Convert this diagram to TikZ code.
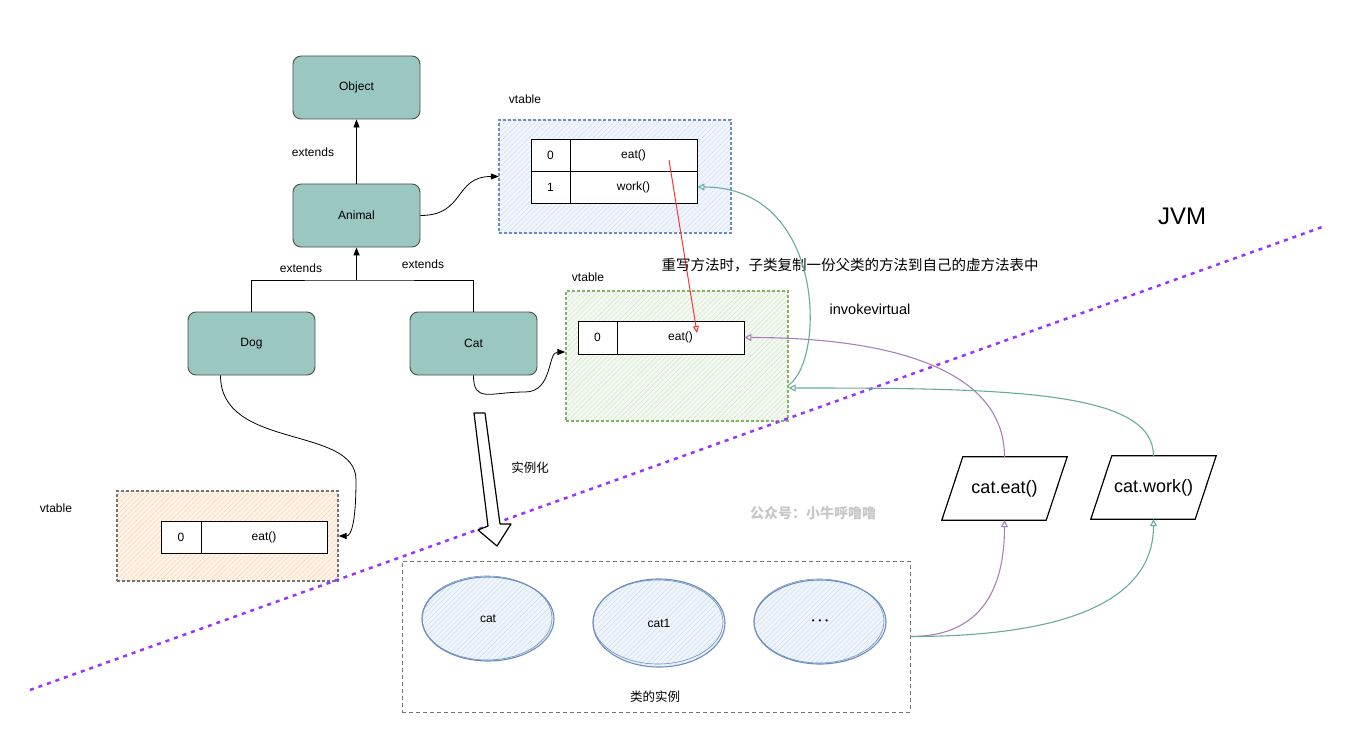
\documentclass[tikz,border=0pt]{standalone}
\usepackage{fontspec}
\setmainfont{Liberation Sans}
\newfontfamily\cjk{Noto Sans CJK SC}
\usetikzlibrary{arrows.meta,shapes.geometric,patterns.meta}

\begin{document}
\begin{tikzpicture}[x=1pt,y=-1pt,
    cls/.style={draw=black!70,fill=clsfill,rounded corners=8pt,line width=0.9pt,
      minimum width=127pt,minimum height=63pt,font=\fontsize{12}{14}\selectfont},
    cell/.style={draw,fill=white,line width=0.8pt,minimum height=32pt,inner sep=0pt,
      font=\fontsize{12}{14}\selectfont},
    vtbox/.style={line width=1.3pt,dash pattern=on 3pt off 2pt,inner sep=0pt},
    hatch/.style={pattern={Lines[angle=45,distance=3.5pt,line width=0.4pt]},pattern color=#1},
    inst/.style={ellipse,draw=instline,line width=1.1pt,preaction={fill=instfill},hatch=insthatch,
      minimum width=132pt,minimum height=84pt,font=\fontsize{12}{14}\selectfont},
    txt/.style={font=\fontsize{12}{14}\selectfont,inner sep=0pt},
    cjktxt/.style={font=\cjk\fontsize{12.5}{15}\selectfont,inner sep=0pt},
    blk/.style={-{Triangle[length=8pt,width=6pt]},line width=0.8pt},
    opn/.style={-{Triangle[open,length=7pt,width=7pt]},line width=1.1pt}]
  \definecolor{clsfill}{HTML}{9AC7BF}
  \definecolor{bluedash}{HTML}{6C8EBF}
  \definecolor{bluefill}{HTML}{F1F5FD}
  \definecolor{bluehatch}{HTML}{C9D9F2}
  \definecolor{greendash}{HTML}{82B366}
  \definecolor{greenfill}{HTML}{F3F8F0}
  \definecolor{greenhatch}{HTML}{CBE2C3}
  \definecolor{orangefill}{HTML}{FFF2E6}
  \definecolor{orangehatch}{HTML}{FAD0AA}
  \definecolor{instline}{HTML}{6C8EBF}
  \definecolor{instfill}{HTML}{F0F5FC}
  \definecolor{insthatch}{HTML}{C8DAF2}
  \definecolor{callpurple}{HTML}{A680B8}
  \definecolor{callteal}{HTML}{67AB9F}
  \definecolor{jvmline}{HTML}{9933FF}
  \definecolor{copyred}{HTML}{FF3333}

  \useasboundingbox (0,0) rectangle (1350,741);

  % class hierarchy
  \node[cls] (object) at (356.5,87.5) {Object};
  \node[cls] (animal) at (356.5,215.5) {Animal};
  \node[cls] (dog) at (251.5,343.5) {Dog};
  \node[cls] (cat) at (473.5,343.5) {Cat};
  \coordinate (join) at (356.5,280);

  \draw[blk] (animal.north) -- (object.south);
  \draw[line width=0.8pt] (dog.north) |- (join) -| (cat.north);
  \draw[blk,line width=1.6pt] (join) -- (animal.south);

  \node[txt] (ext1) at (313,152) {extends};
  \node[txt] (ext2) at (301,268) {extends};
  \node[txt] (ext3) at (423,264) {extends};

  % vtable of Animal
  \node[vtbox,draw=bluedash,preaction={fill=bluefill},hatch=bluehatch,
        minimum width=232pt,minimum height=113pt] (bluevt) at (615,176.5) {};
  \node[txt] (bluelbl) at (525,99) {vtable};
  \node[cell,minimum width=39pt] (bidx0) at (550.5,155) {0};
  \node[cell,minimum width=127pt] (beat) at (633.5,155) {eat()};
  \node[cell,minimum width=39pt] (bidx1) at (550.5,187) {1};
  \node[cell,minimum width=127pt] (bwork) at (633.5,187) {work()};

  % vtable of Cat
  \node[vtbox,draw=greendash,preaction={fill=greenfill},hatch=greenhatch,
        minimum width=222pt,minimum height=130pt] (greenvt) at (677,356) {};
  \node[txt] (greenlbl) at (588,277) {vtable};
  \node[cell,minimum width=39pt,minimum height=33pt] (gidx0) at (597.5,337.5) {0};
  \node[cell,minimum width=127pt,minimum height=33pt] (geat) at (680.5,337.5) {eat()};

  % vtable of Dog
  \node[vtbox,draw=black!55,preaction={fill=orangefill},hatch=orangehatch,
        minimum width=221pt,minimum height=90pt] (orangevt) at (227.5,536) {};
  \node[txt] (orangelbl) at (56,508) {vtable};
  \node[cell,minimum width=40pt] (oidx0) at (181,537) {0};
  \node[cell,minimum width=126pt] (oeat) at (264,537) {eat()};

  % class -> vtable
  \draw[blk] (animal.east) .. controls +(45,0) and +(-45,0) .. (bluevt.west);
  \draw[blk] (cat.south) .. controls +(0,28) and +(-35,0) .. (525,392)
        .. controls +(28,0) and +(-18,0) .. ([yshift=4pt]greenvt.west);
  \draw[blk] ([xshift=-31pt]dog.south) .. controls +(0,75) and +(0,-55) .. (356,480)
        .. controls +(0,45) and +(12,0) .. (orangevt.east);

  % overriding copies the method
  \draw[copyred,line width=1pt,-{Triangle[open,length=7pt,width=6pt]}]
        ([xshift=35.5pt,yshift=-5pt]beat.center) -- ([xshift=16.5pt,yshift=4.5pt]geat.center);
  \node[font=\cjk\fontsize{14.5}{17}\selectfont,inner sep=0pt] (copynote) at (850,265)
        {重写方法时，子类复制一份父类的方法到自己的虚方法表中};

  % JVM border
  \coordinate (jvmlo) at (30,690);
  \coordinate (jvmhi) at (1325,226);
  \draw[jvmline,line width=2.5pt,dash pattern=on 4pt off 5pt] (jvmlo) -- (jvmhi);
  \node[font=\fontsize{24}{28}\selectfont] (jvm) at (1182,216) {JVM};
  \node[font=\fontsize{14.5}{17}\selectfont,inner sep=0pt] (invoke) at (870,309) {invokevirtual};
  \node[font=\cjk\bfseries\fontsize{14}{16}\selectfont,text=black!22] (mark) at (813,513)
        {公众号：小牛呼噜噜};

  % instantiation
  \draw[line width=1.2pt,fill=white,line join=round] (474,413) -- (485,413) -- (500,524)
        -- (511,524) -- (497,546) -- (478,530) -- (488,526) -- cycle;
  \node[cjktxt] (newlbl) at (530,468) {实例化};

  \node[draw=black!55,dash pattern=on 4pt off 3pt,line width=0.9pt,
        minimum width=508pt,minimum height=151pt] (objs) at (656,636.5) {};
  \node[cjktxt] (objslbl) at (655,697) {类的实例};
  \node[inst] (cat0) at (488,619) {cat};
  \node[inst,minimum height=88pt] (cat1) at (659,623) {cat1};
  \node[inst] (more) at (820,622) {{\fontsize{8}{9}\selectfont •\,\,\,•\,\,\,•}};
  \foreach \e in {cat0,cat1,more}
    \draw[instline,line width=0.6pt] ([xshift=-1pt,yshift=1pt]\e.center)
        ellipse [x radius=65pt,y radius=42pt];

  % method calls
  \node[minimum width=125pt,minimum height=63pt,font=\fontsize{18}{21}\selectfont]
        (eatcall) at (1004.5,488.5) {cat.eat()};
  \node[minimum width=125pt,minimum height=63pt,font=\fontsize{18}{21}\selectfont]
        (workcall) at (1153.5,487.5) {cat.work()};
  \draw[line width=1.2pt] ([xshift=21pt]eatcall.north west) -- (eatcall.north east)
        -- ([xshift=-21pt]eatcall.south east) -- (eatcall.south west) -- cycle;
  \draw[line width=1.2pt] ([xshift=21pt]workcall.north west) -- (workcall.north east)
        -- ([xshift=-21pt]workcall.south east) -- (workcall.south west) -- cycle;

  \draw[opn,callpurple] (objs.east) .. controls +(70,0) and +(0,70) .. (eatcall.south);
  \draw[opn,callteal] (objs.east) .. controls +(170,0) and +(0,75) .. (workcall.south);
  \draw[opn,callpurple] (eatcall.north) .. controls +(0,-90) and +(140,0) .. (geat.east);
  \draw[opn,callteal] (workcall.north) .. controls +(0,-65) and +(220,0) .. ([yshift=-32pt]greenvt.east);
  \draw[opn,callteal] ([yshift=-29pt]greenvt.east) .. controls +(37,-25) and +(128,0) .. (bwork.east);
\end{tikzpicture}
\end{document}
